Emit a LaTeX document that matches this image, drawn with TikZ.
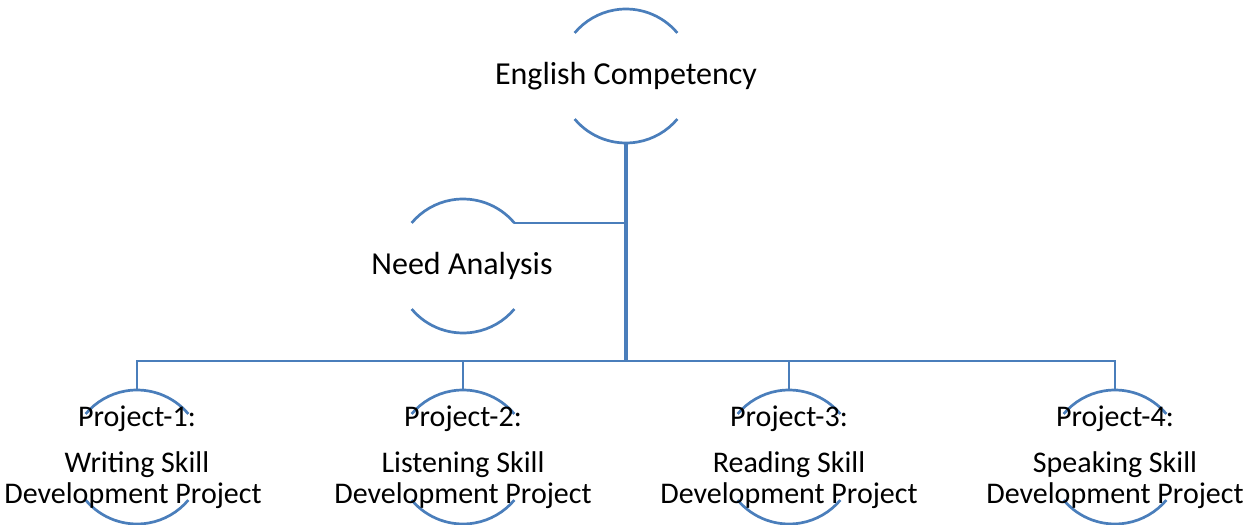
\documentclass[tikz,border=0pt]{standalone}
\usepackage{fontspec}
\setmainfont{Carlito}
\definecolor{linecol}{RGB}{74,126,187}
\tikzset{
  circ/.style={circle, minimum size=134pt, inner sep=0pt, outer sep=0pt, draw=none},
  arcline/.style={draw=linecol, line width=2.7pt},
  conn/.style={draw=linecol, line width=2.4pt},
  mainconn/.style={draw=linecol, line width=3.2pt},
  bigtxt/.style={anchor=base, inner sep=0pt, font=\fontsize{32}{38}\selectfont},
  projtxt/.style={anchor=base, inner sep=0pt, font=\fontsize{30}{36}\selectfont},
}
\begin{document}
\begin{tikzpicture}[x=1pt,y=1pt]
\useasboundingbox (0,0) rectangle (1251,525);
% circle nodes
\node[circ] (ec) at (626,449) {};
\node[circ] (na) at (463,259) {};
\node[circ] (p1) at (137,68) {};
\node[circ] (p2) at (463,68) {};
\node[circ] (p3) at (789,68) {};
\node[circ] (p4) at (1115,68) {};
\coordinate (busc) at (626,164);
% arcs
\foreach \n in {ec,na,p1,p2,p3,p4}{
  \draw[arcline] (\n.40) arc (40:140:67);
  \draw[arcline] (\n.220) arc (220:320:67);
}
% connectors
\draw[mainconn] (ec.south) -- (busc);
\draw[conn] (na.40) -- (na.40 -| busc);
\draw[conn] (p1.north) -- (p1.north |- busc) -- (p4.north |- busc) -- (p4.north);
\draw[conn] (p2.north) -- (p2.north |- busc);
\draw[conn] (p3.north) -- (p3.north |- busc);
% texts
\node[bigtxt] (tec) at (626,440) {English Competency};
\node[bigtxt] (tna) at (462,250) {Need Analysis};
\node[projtxt] (p1a) at (137,98) {Project-1:};
\node[projtxt] (p1b) at (137,52) {Writing Skill};
\node[projtxt] (p1c) at (133,21) {Development Project};
\node[projtxt] (p2a) at (463,98) {Project-2:};
\node[projtxt] (p2b) at (463,52) {Listening Skill};
\node[projtxt] (p2c) at (463,21) {Development Project};
\node[projtxt] (p3a) at (789,98) {Project-3:};
\node[projtxt] (p3b) at (789,52) {Reading Skill};
\node[projtxt] (p3c) at (789,21) {Development Project};
\node[projtxt] (p4a) at (1115,98) {Project-4:};
\node[projtxt] (p4b) at (1115,52) {Speaking Skill};
\node[projtxt] (p4c) at (1115,21) {Development Project};
\end{tikzpicture}
\end{document}
